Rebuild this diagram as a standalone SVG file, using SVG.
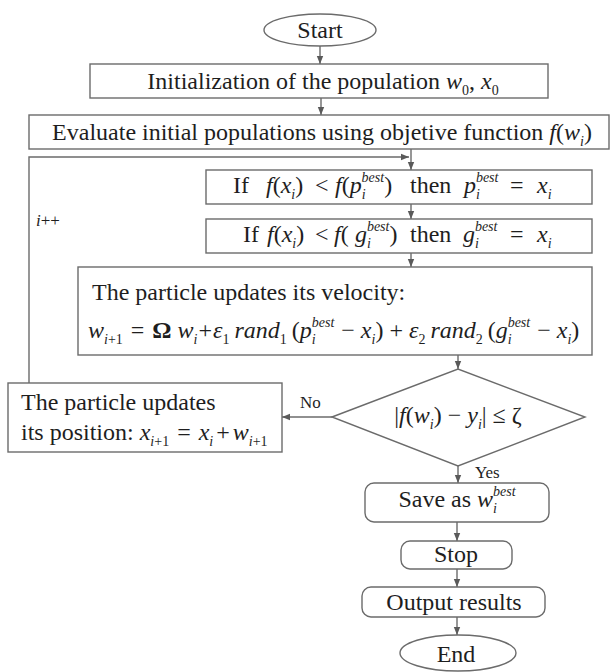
<svg xmlns="http://www.w3.org/2000/svg" width="610" height="672" viewBox="0 0 610 672">
<defs>
<marker id="ah" viewBox="0 0 10 10" refX="10" refY="5" markerWidth="8" markerHeight="8" markerUnits="userSpaceOnUse" orient="auto"><path d="M0,1 L10,5 L0,9 z" fill="#5a5a5a"/></marker>
</defs>
<style>
.box{fill:#fff;stroke:#6b6b6b;stroke-width:1.4}
.ln{fill:none;stroke:#6b6b6b;stroke-width:1.4;marker-end:url(#ah)}
.t{font-family:"Liberation Serif","Times New Roman",Times,serif;font-size:24px;fill:#1e1e1e}
.c{text-anchor:middle}
.it{font-style:italic}
.si{font-style:italic;font-size:14px}
.sn{font-size:14px}
.lb{font-family:"Liberation Serif","Times New Roman",Times,serif;font-size:17px;fill:#1e1e1e}
</style>
<rect width="610" height="672" fill="#fff"/>
<g id="connectors">
<line class="ln" x1="320" y1="46" x2="320" y2="64"/>
<line class="ln" x1="321" y1="98" x2="321" y2="115"/>
<line class="ln" x1="411" y1="149" x2="411" y2="170"/>
<polyline class="ln" points="29,383 29,157 409,157"/>
<line class="ln" x1="411" y1="204" x2="411" y2="219"/>
<line class="ln" x1="411" y1="253" x2="411" y2="267"/>
<line class="ln" x1="458" y1="355" x2="458" y2="369"/>
<line class="ln" x1="332" y1="417" x2="282" y2="417"/>
<line class="ln" x1="458" y1="466" x2="458" y2="483"/>
<line class="ln" x1="457" y1="522" x2="457" y2="541"/>
<line class="ln" x1="457" y1="569" x2="457" y2="587"/>
<line class="ln" x1="457" y1="617" x2="457" y2="635"/>
<text class="lb" x="300" y="408">No</text>
<text class="lb" x="475" y="478">Yes</text>
<text class="lb" x="36" y="226"><tspan class="it">i</tspan>++</text>
</g>
<g id="start">
<ellipse class="box" cx="320" cy="30" rx="56" ry="16"/>
<text class="t c" x="320" y="38">Start</text>
</g>
<g id="init">
<rect class="box" x="90" y="64" width="458" height="34"/>
<text class="t c" x="323" y="89">Initialization of the population <tspan class="it">w</tspan><tspan class="sn" dy="6">0</tspan><tspan dy="-6">, </tspan><tspan class="it">x</tspan><tspan class="sn" dy="6">0</tspan></text>
</g>
<g id="evaluate">
<rect class="box" x="29" y="115" width="580" height="34"/>
<text class="t c" x="322" y="140">Evaluate initial populations using objetive function <tspan class="it">f</tspan>(<tspan class="it">w</tspan><tspan class="si" dy="6">i</tspan><tspan dy="-6">)</tspan></text>
</g>
<g id="pbest">
<rect class="box" x="206" y="170" width="386" height="34"/>
<text class="t" y="193"><tspan x="233">If</tspan><tspan class="it" x="266">f</tspan>(<tspan class="it">x</tspan><tspan class="si" y="199">i</tspan><tspan y="193">)</tspan><tspan x="315">&lt;</tspan><tspan class="it" x="335">f</tspan>(<tspan class="it">p</tspan><tspan class="si" y="199">i</tspan><tspan class="si" dx="-4" y="182">best</tspan><tspan y="193">)</tspan><tspan x="410">then</tspan><tspan class="it" x="464">p</tspan><tspan class="si" y="199">i</tspan><tspan class="si" dx="-4" y="182">best</tspan><tspan x="510" y="193">=</tspan><tspan class="it" x="537">x</tspan><tspan class="si" y="199">i</tspan></text>
</g>
<g id="gbest">
<rect class="box" x="206" y="219" width="386" height="34"/>
<text class="t" y="242"><tspan x="243">If</tspan><tspan class="it" x="267">f</tspan>(<tspan class="it">x</tspan><tspan class="si" y="248">i</tspan><tspan y="242">)</tspan><tspan x="315">&lt;</tspan><tspan class="it" x="334">f</tspan>(<tspan class="it" x="355">g</tspan><tspan class="si" y="248">i</tspan><tspan class="si" dx="-4" y="231">best</tspan><tspan y="242">)</tspan><tspan x="410">then</tspan><tspan class="it" x="463">g</tspan><tspan class="si" y="248">i</tspan><tspan class="si" dx="-4" y="231">best</tspan><tspan x="510" y="242">=</tspan><tspan class="it" x="537">x</tspan><tspan class="si" y="248">i</tspan></text>
</g>
<g id="velocity">
<rect class="box" x="78" y="267" width="514" height="88"/>
<text class="t" x="92" y="300">The particle updates its velocity:</text>
<text class="t" x="88" y="338"><tspan class="it">w</tspan><tspan class="si" y="344">i</tspan><tspan class="sn">+1</tspan><tspan y="338" dx="2"> = </tspan><tspan font-weight="bold" dx="2">Ω</tspan><tspan class="it" dx="6">w</tspan><tspan class="si" y="344">i</tspan><tspan y="338" dx="1">+</tspan><tspan class="it" dx="1">ε</tspan><tspan class="sn" y="344">1</tspan><tspan class="it" dx="5" y="338">rand</tspan><tspan class="sn" y="344">1</tspan><tspan dx="5" y="338">(</tspan><tspan class="it">p</tspan><tspan class="si" y="344">i</tspan><tspan class="si" dx="-4" y="327">best</tspan><tspan y="338" dx="1"> − </tspan><tspan class="it">x</tspan><tspan class="si" y="344">i</tspan><tspan y="338">) + </tspan><tspan class="it">ε</tspan><tspan class="sn" y="344">2</tspan><tspan class="it" dx="5" y="338">rand</tspan><tspan class="sn" y="344">2</tspan><tspan dx="5" y="338">(</tspan><tspan class="it">g</tspan><tspan class="si" y="344">i</tspan><tspan class="si" dx="-4" y="327">best</tspan><tspan y="338" dx="1"> − </tspan><tspan class="it">x</tspan><tspan class="si" y="344">i</tspan><tspan y="338">)</tspan></text>
</g>
<g id="decision">
<polygon class="box" points="332,417 458,369 585,417 458,466"/>
<text class="t c" x="458" y="423">|<tspan class="it">f</tspan>(<tspan class="it">w</tspan><tspan class="si" dy="6">i</tspan><tspan dy="-6">) − </tspan><tspan class="it">y</tspan><tspan class="si" dy="6">i</tspan><tspan dy="-6">| ≤ ζ</tspan></text>
</g>
<g id="position">
<rect class="box" x="8" y="383" width="274" height="69"/>
<text class="t" x="21" y="410">The particle updates</text>
<text class="t" x="21" y="440">its position: <tspan class="it">x</tspan><tspan class="si" y="446">i</tspan><tspan class="sn">+1</tspan><tspan y="440" dx="2"> = </tspan><tspan class="it" dx="2">x</tspan><tspan class="si" y="446">i</tspan><tspan y="440" dx="3">+</tspan><tspan class="it" dx="3">w</tspan><tspan class="si" y="446">i</tspan><tspan class="sn">+1</tspan></text>
</g>
<g id="save">
<rect class="box" x="365" y="483" width="184" height="39" rx="9"/>
<text class="t c" x="457" y="507">Save as <tspan class="it">w</tspan><tspan class="si" dy="6">i</tspan><tspan class="si" dx="-4" dy="-17">best</tspan></text>
</g>
<g id="stop">
<rect class="box" x="401" y="541" width="111" height="28" rx="9"/>
<text class="t c" x="456" y="562">Stop</text>
</g>
<g id="output">
<rect class="box" x="362" y="587" width="183" height="30" rx="9"/>
<text class="t c" x="454" y="610">Output results</text>
</g>
<g id="end">
<ellipse class="box" cx="458" cy="653" rx="58" ry="18"/>
<text class="t c" x="456" y="662">End</text>
</g>
</svg>
